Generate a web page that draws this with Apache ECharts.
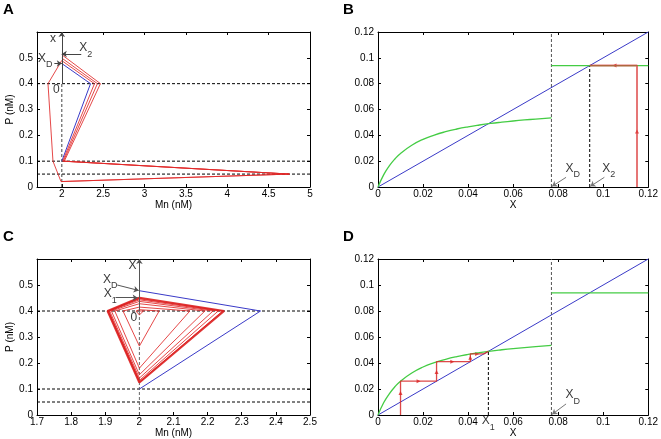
<!DOCTYPE html>
<html><head><meta charset="utf-8">
<script src="https://cdn.jsdelivr.net/npm/echarts@6/dist/echarts.min.js"></script>
<style>html,body{margin:0;padding:0;background:#fff}#c{width:661px;height:439px}</style>
</head><body><div id="c"></div>
<script>
// ---------------- data ----------------
const aTicksX = [2, 2.5, 3, 3.5, 4, 4.5, 5];
const cTicksX = [1.7, 1.8, 1.9, 2, 2.1, 2.2, 2.3, 2.4, 2.5];
const pTicksY = [0, 0.1, 0.2, 0.3, 0.4, 0.5];
const mapTicks = [0, 0.02, 0.04, 0.06, 0.08, 0.1, 0.12];

// Panel A (Mn, P)
const aBlue = [[2, 0.478], [2.347, 0.4], [2.0, 0.1]];
const aRedOuter = [[2, 0.512], [2.467, 0.4], [2.03, 0.1], [4.75, 0.05], [1.99, 0.021], [1.893, 0.1], [1.833, 0.4], [2, 0.49]];
const aRedMid = [[2, 0.499], [2.43, 0.4], [2.02, 0.1], [4.75, 0.05]];
const aRedInner = [[2, 0.489], [2.395, 0.4], [2.01, 0.1], [4.75, 0.05], [1.99, 0.021]];
const thresholdsP = [0.4, 0.1, 0.05];

// Panel C (Mn, P)
const cBlue = [[2, 0.478], [2.355, 0.4], [2, 0.1]];
const cRedSpiral = [[2.0, 0.4], [2.012, 0.4], [2.0, 0.385], [1.99, 0.4], [2.0, 0.405], [2.058, 0.4], [2.0, 0.265], [1.952, 0.4],
  [2.0, 0.415], [2.148, 0.4], [2.0, 0.18], [1.928, 0.4], [2.0, 0.428], [2.192, 0.4], [2.0, 0.155], [1.918, 0.4],
  [2.0, 0.437], [2.216, 0.4], [2.0, 0.142], [1.913, 0.4], [2.0, 0.443], [2.231, 0.4], [2.0, 0.133], [1.91, 0.4],
  [2.0, 0.447], [2.244, 0.4], [2.0, 0.127], [1.908, 0.4], [2.0, 0.45]];
const cRedLimit = [[2.0, 0.451], [2.248, 0.4], [2.0, 0.125], [1.907, 0.4], [2.0, 0.451]];

// Panels B, D (return maps)
const diag = [[0, 0], [0.12, 0.12]];
const greenX = [0, 0.0025, 0.005, 0.0075, 0.01, 0.015, 0.02, 0.025, 0.03, 0.035, 0.04, 0.045, 0.05, 0.055, 0.06, 0.065, 0.07, 0.077];
const greenY = [0, 0.0094, 0.0163, 0.0217, 0.026, 0.0323, 0.0369, 0.0402, 0.0428, 0.0449, 0.0466, 0.048, 0.0492, 0.0502, 0.0511, 0.0519, 0.0526, 0.0535];
const greenHigh = [[0.077, 0.094], [0.12, 0.094]];
const xD = 0.077, x1 = 0.049, x2 = 0.094;
const bRed = [[0.115, 0], [0.115, 0.094], [0.094, 0.094]];
const bArrows = [[0.115, 0.043, 'up'], [0.105, 0.094, 'left']];
const dRed = [[0.01, 0], [0.01, 0.026], [0.026, 0.026], [0.026, 0.041], [0.041, 0.041], [0.041, 0.047], [0.047, 0.047], [0.047, 0.0484], [0.0484, 0.0484], [0.0484, 0.0489], [0.049, 0.049]];
const dArrows = [[0.01, 0.017, 'up'], [0.018, 0.026, 'right'], [0.026, 0.033, 'up'], [0.033, 0.041, 'right'], [0.041, 0.044, 'up'], [0.044, 0.047, 'right']];

// annotations [x, y, main, sub]
const aTexts = [[1.893, 0.569, 'x', ''], [1.934, 0.372, '0', ''], [1.80, 0.488, 'X', 'D'], [2.29, 0.528, 'X', '2']];
const aArrows = [[2, 0.4, 2, 0.6], [1.91, 0.478, 2.0, 0.478], [2.235, 0.515, 2.0, 0.515]];
const cTexts = [[1.98, 0.572, 'X', ''], [1.984, 0.371, '0', ''], [1.915, 0.512, 'X', 'D'], [1.915, 0.456, 'X', '1']];
const cArrows = [[2, 0.4, 2, 0.6], [1.935, 0.5, 1.998, 0.479], [1.93, 0.451, 1.995, 0.451]];
const bTexts = [[0.0865, 0.0125, 'X', 'D'], [0.1025, 0.0125, 'X', '2']];
const bArrows2 = [[0.0835, 0.0075, 0.0773, 0.0005], [0.1005, 0.0075, 0.0943, 0.0005]];
const dTexts = [[0.0865, 0.0135, 'X', 'D'], [0.049, -0.0065, 'X', '1']];
const dArrows2 = [[0.0835, 0.0085, 0.0773, 0.0005]];

// ---------------- chart ----------------
const FONT = 'Liberation Sans, Arial, Helvetica, sans-serif';
const fmt = v => String(parseFloat((+v).toFixed(4)));
const grids = [
  {left: 37, top: 32, width: 273, height: 155},
  {left: 378, top: 32, width: 271, height: 155},
  {left: 37, top: 259, width: 273, height: 156},
  {left: 378, top: 259, width: 271, height: 156}
];
const xAxes = [], yAxes = [];
function addAxes(g, xmin, xmax, xt, ymin, ymax, yt, xname, yname) {
  const lineS = {show: true, onZero: false, lineStyle: {color: '#000', width: 1}};
  const tick = {show: true, inside: true, length: 3, customValues: xt, lineStyle: {color: '#000'}};
  xAxes.push({gridIndex: g, type: 'value', min: xmin, max: xmax, position: 'bottom', axisLine: lineS,
    axisTick: tick, splitLine: {show: false},
    axisLabel: {customValues: xt, formatter: fmt, fontSize: 10, color: '#000', margin: 2, fontFamily: FONT},
    name: xname, nameLocation: 'middle', nameGap: 12, nameTextStyle: {fontSize: 10, color: '#000', fontFamily: FONT}});
  xAxes.push({gridIndex: g, type: 'value', min: xmin, max: xmax, position: 'top', axisLine: lineS,
    axisTick: tick, splitLine: {show: false}, axisLabel: {show: false}});
  const ytick = {show: true, inside: true, length: 3, customValues: yt, lineStyle: {color: '#000'}};
  yAxes.push({gridIndex: g, type: 'value', min: ymin, max: ymax, position: 'left', axisLine: lineS,
    axisTick: ytick, splitLine: {show: false},
    axisLabel: {customValues: yt, formatter: fmt, fontSize: 10, color: '#000', margin: 4, fontFamily: FONT},
    name: yname, nameLocation: 'middle', nameRotate: 90, nameGap: 16, nameTextStyle: {fontSize: 10, color: '#000', fontFamily: FONT}});
  yAxes.push({gridIndex: g, type: 'value', min: ymin, max: ymax, position: 'right', axisLine: lineS,
    axisTick: ytick, splitLine: {show: false}, axisLabel: {show: false}});
}
addAxes(0, 1.7, 5, aTicksX, 0, 0.6, pTicksY, 'Mn (nM)', 'P (nM)');
addAxes(1, 0, 0.12, mapTicks, 0, 0.12, mapTicks, 'X', '');
addAxes(2, 1.7, 2.5, cTicksX, 0, 0.6, pTicksY, 'Mn (nM)', 'P (nM)');
addAxes(3, 0, 0.12, mapTicks, 0, 0.12, mapTicks, 'X', '');

const series = [];
function line(g, data, color, width, type, extra) {
  series.push(Object.assign({type: 'line', xAxisIndex: 2 * g, yAxisIndex: 2 * g, data: data, showSymbol: false, symbol: 'none',
    lineStyle: {color: color, width: width, type: type || 'solid'}, silent: true, animation: false, clip: false}, extra || {}));
}
function arrows(g, list, color) {
  series.push({type: 'line', xAxisIndex: 2 * g, yAxisIndex: 2 * g, data: [], symbol: 'none', silent: true, animation: false,
    markLine: {silent: true, animation: false, symbol: ['none', 'arrow'], symbolSize: 5, label: {show: false},
      lineStyle: {color: color, width: 1, type: 'solid'},
      data: list.map(a => [{coord: [a[0], a[1]]}, {coord: [a[2], a[3]]}])}});
}
function texts(g, list) {
  series.push({type: 'scatter', xAxisIndex: 2 * g, yAxisIndex: 2 * g, symbolSize: 1, itemStyle: {color: 'rgba(0,0,0,0)'},
    silent: true, animation: false, clip: false,
    data: list.map(t => ({value: [t[0], t[1]], label: {show: true, position: 'inside',
      formatter: t[3] ? '{m|' + t[2] + '}{s|' + t[3] + '}' : '{m|' + t[2] + '}',
      rich: {m: {fontSize: 12, color: '#000', fontFamily: FONT, lineHeight: 14, verticalAlign: 'top'},
             s: {fontSize: 9, color: '#000', fontFamily: FONT, padding: [8, 0, 0, 0], verticalAlign: 'bottom'}}}}))});
}
function marks(g, list, color) {
  const rot = {up: 0, left: 90, right: -90, down: 180};
  series.push({type: 'scatter', xAxisIndex: 2 * g, yAxisIndex: 2 * g, symbol: 'triangle', symbolSize: 4, silent: true, animation: false,
    itemStyle: {color: color}, data: list.map(a => ({value: [a[0], a[1]], symbolRotate: rot[a[2]]}))});
}
const DASH = [3, 2];
// Panel A
thresholdsP.forEach(p => line(0, [[1.7, p], [5, p]], '#000', 1, DASH));
line(0, [[2, 0], [2, 0.4]], '#444', 1, DASH);
arrows(0, aArrows, '#444');
line(0, aBlue, '#3a3ac8', 1);
line(0, aRedOuter, 'rgba(225,40,40,0.85)', 1);
line(0, aRedMid, 'rgba(225,40,40,0.85)', 1);
line(0, aRedInner, 'rgba(225,40,40,0.85)', 1);
texts(0, aTexts);
// Panel C
thresholdsP.forEach(p => line(2, [[1.7, p], [2.5, p]], '#000', 1, DASH));
line(2, [[2, 0], [2, 0.4]], '#666', 1, DASH);
arrows(2, cArrows, '#555');
line(2, cBlue, '#3a3ac8', 1);
line(2, cRedSpiral, 'rgba(225,40,40,0.85)', 1);
line(2, cRedLimit, 'rgba(220,30,30,0.9)', 2.2);
texts(2, cTexts);
// Panel B
line(1, [[xD, 0], [xD, 0.12]], '#555', 1, DASH);
line(1, [[x2, 0], [x2, 0.094]], '#000', 1, DASH);
line(1, diag, '#3a3ac8', 1);
line(1, greenX.map((x, i) => [x, greenY[i]]), '#44cc44', 1.3, 'solid', {smooth: true});
line(1, greenHigh, '#44cc44', 1.3);
line(1, bRed, 'rgba(220,60,60,0.7)', 2);
marks(1, bArrows, '#e02020');
arrows(1, bArrows2, '#777');
texts(1, bTexts);
// Panel D
line(3, [[xD, 0], [xD, 0.12]], '#555', 1, DASH);
line(3, [[x1, 0], [x1, 0.049]], '#000', 1, DASH);
line(3, diag, '#3a3ac8', 1);
line(3, greenX.map((x, i) => [x, greenY[i]]), '#44cc44', 1.3, 'solid', {smooth: true});
line(3, greenHigh, '#44cc44', 1.3);
line(3, dRed, 'rgba(215,40,40,0.85)', 1.3);
marks(3, dArrows, '#e02020');
arrows(3, dArrows2, '#777');
texts(3, dTexts);

const letters = [['A', 3, 2], ['B', 343, 2], ['C', 3, 229], ['D', 343, 229]];
const chart = echarts.init(document.getElementById('c'), null, {renderer: 'canvas'});
chart.setOption({
  animation: false,
  backgroundColor: '#fff',
  grid: grids,
  xAxis: xAxes,
  yAxis: yAxes,
  series: series,
  graphic: letters.map(l => ({type: 'text', left: l[1], top: l[2],
    style: {text: l[0], font: 'bold 15px ' + FONT, fill: '#000'}}))
});
</script></body></html>
